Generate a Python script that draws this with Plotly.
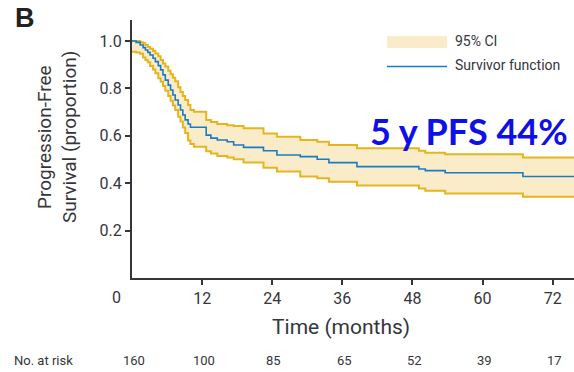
import plotly.graph_objects as go

# Kaplan-Meier estimate of progression-free survival with 95% CI (step values)
time_months = [0, 0.7, 1.4, 1.9, 2.3, 2.7, 3.1, 3.6, 4.0, 4.5, 4.9, 5.3, 5.7, 6.2,
               6.6, 7.0, 7.4, 7.9, 8.3, 8.7, 9.1, 9.6, 10.0, 10.6, 12.7, 13.5, 14.6,
               16.3, 17.4, 19.1, 22.5, 24.8, 28.8, 31.7, 33.7, 38.5, 49.1, 50.2, 53.6,
               66.9, 76]
survival = [1.0, 0.994, 0.983, 0.972, 0.962, 0.952, 0.941, 0.927, 0.913, 0.896,
            0.878, 0.857, 0.835, 0.814, 0.793, 0.772, 0.751, 0.73, 0.709, 0.688,
            0.667, 0.65, 0.636, 0.636, 0.603, 0.59, 0.582, 0.575, 0.561, 0.551,
            0.537, 0.519, 0.512, 0.501, 0.487, 0.470, 0.460, 0.453, 0.444, 0.428, 0.428]
ci_upper = [1.0, 1.0, 0.995, 0.99, 0.983, 0.975, 0.967, 0.958, 0.947, 0.936, 0.92,
            0.905, 0.892, 0.875, 0.86, 0.845, 0.83, 0.805, 0.785, 0.768, 0.751,
            0.73, 0.709, 0.702, 0.667, 0.658, 0.65, 0.645, 0.641, 0.632, 0.61,
            0.596, 0.582, 0.575, 0.561, 0.547, 0.537, 0.529, 0.522, 0.508, 0.508]
ci_lower = [0.955, 0.952, 0.946, 0.93, 0.92, 0.91, 0.895, 0.88, 0.864, 0.843, 0.828,
            0.81, 0.79, 0.768, 0.748, 0.728, 0.709, 0.68, 0.66, 0.635, 0.612, 0.58,
            0.565, 0.554, 0.535, 0.525, 0.515, 0.508, 0.501, 0.487, 0.465, 0.449,
            0.428, 0.421, 0.406, 0.390, 0.378, 0.368, 0.357, 0.343, 0.343]

x_ticks = [12, 24, 36, 48, 60, 72]
y_ticks = [0.2, 0.4, 0.6, 0.8, 1.0]
risk_times = [0, 12, 24, 36, 48, 60, 72]
at_risk = [160, 100, 85, 65, 52, 39, 17]

GOLD = "#e6b51e"
FILL = "#faecc9"
BLUE = "#1a7cc0"
INK = "#35353c"
SANS = "Roboto, Liberation Sans, sans-serif"

fig = go.Figure()
fig.add_trace(go.Scatter(x=time_months, y=ci_lower, mode="lines", line_shape="hv",
                         line=dict(color=GOLD, width=2), showlegend=False, hoverinfo="skip"))
fig.add_trace(go.Scatter(x=time_months, y=ci_upper, mode="lines", line_shape="hv",
                         line=dict(color=GOLD, width=2), fill="tonexty", fillcolor=FILL,
                         showlegend=False, hoverinfo="skip"))
fig.add_trace(go.Scatter(x=time_months, y=survival, mode="lines", line_shape="hv",
                         line=dict(color=BLUE, width=1.6), showlegend=False))

L, R, T, B = 132, 0, 20, 94
W, H = 574, 372
pw, ph = W - L - R, H - T - B


def px(xp):
    return (xp - L) / pw


def py(yp):
    return (H - B - yp) / ph


# legend drawn by hand: CI swatch and survivor line
shapes = [
    dict(type="rect", xref="paper", yref="paper", x0=px(387), x1=px(447),
         y0=py(48), y1=py(36), fillcolor=FILL, line=dict(width=0), layer="above"),
    dict(type="line", xref="paper", yref="paper", x0=px(387), x1=px(447),
         y0=py(66.5), y1=py(66.5), line=dict(color=BLUE, width=1.6)),
]

annotations = [
    dict(text="95% CI", xref="paper", yref="paper", x=px(453), y=py(41),
         xanchor="left", yanchor="middle", showarrow=False,
         font=dict(family=SANS, size=14, color=INK)),
    dict(text="Survivor function", xref="paper", yref="paper", x=px(453), y=py(65),
         xanchor="left", yanchor="middle", showarrow=False,
         font=dict(family=SANS, size=14, color=INK)),
    dict(text="<b>B</b>", xref="paper", yref="paper", x=px(13), y=py(18),
         xanchor="left", yanchor="middle", showarrow=False,
         font=dict(family="Liberation Sans, Arial, sans-serif", size=27, color="#222")),
    dict(text="Progression-Free", xref="paper", yref="paper", x=px(44), y=py(137),
         textangle=-90, xanchor="center", yanchor="middle", showarrow=False,
         font=dict(family=SANS, size=19, color=INK)),
    dict(text="Survival (proportion)", xref="paper", yref="paper", x=px(69), y=py(137),
         textangle=-90, xanchor="center", yanchor="middle", showarrow=False,
         font=dict(family=SANS, size=19, color=INK)),
    dict(text="Time (months)", xref="paper", yref="paper", x=px(341), y=py(327),
         xanchor="center", yanchor="middle", showarrow=False,
         font=dict(family=SANS, size=21, color=INK)),
    dict(text="0", xref="paper", yref="paper", x=px(116), y=py(297),
         xanchor="center", yanchor="middle", showarrow=False,
         font=dict(family=SANS, size=16, color=INK)),
    dict(text="No. at risk", xref="paper", yref="paper", x=px(12), y=py(360),
         xanchor="left", yanchor="middle", showarrow=False,
         font=dict(family=SANS, size=13, color=INK)),
    dict(text="<b>5 y PFS 44%</b>", xref="paper", yref="paper", x=px(368), y=py(131),
         xanchor="left", yanchor="middle", showarrow=False,
         font=dict(family="Lato, Liberation Sans, sans-serif", size=36, color="#0f0fe8")),
]
for t, n in zip(risk_times, at_risk):
    annotations.append(dict(text=str(n), xref="x", yref="paper", x=t + 0.3, y=py(360),
                            xanchor="center", yanchor="middle", showarrow=False,
                            font=dict(family=SANS, size=13, color=INK)))

fig.update_layout(
    width=W, height=H, margin=dict(l=L, r=R, t=T, b=B),
    paper_bgcolor="white", plot_bgcolor="white",
    shapes=shapes, annotations=annotations,
    xaxis=dict(range=[0, pw / 5.843], tickvals=x_ticks, ticks="outside", ticklen=5,
               tickwidth=1.5, tickcolor=INK, showline=True, linecolor=INK, linewidth=2,
               showgrid=False, zeroline=False,
               tickfont=dict(family=SANS, size=16, color=INK)),
    yaxis=dict(range=[0, ph / 237.0], tickvals=y_ticks, tickformat=".1f", ticks="outside",
               ticklen=5, tickwidth=1.5, tickcolor=INK, showline=True, linecolor=INK,
               linewidth=2, showgrid=False, zeroline=False,
               tickfont=dict(family=SANS, size=16, color=INK)),
)

fig.write_html("out.html")
